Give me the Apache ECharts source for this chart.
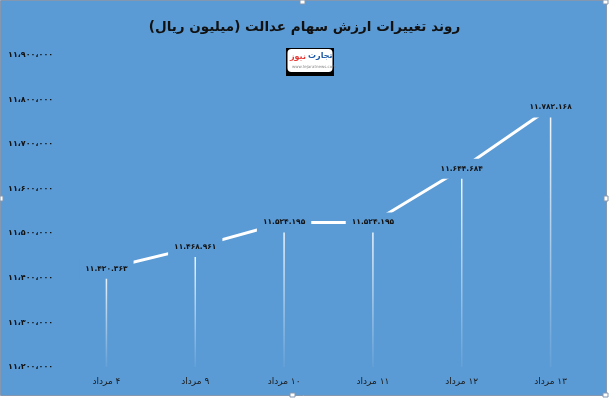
<!DOCTYPE html>
<html>
<head>
<meta charset="utf-8">
<script src="https://cdn.jsdelivr.net/npm/echarts@6/dist/echarts.min.js"></script>
<style>html,body{margin:0;padding:0;background:#fff}#c{width:609px;height:398px}</style>
</head>
<body>
<div id="c"></div>
<script>
const titleText = 'روند تغییرات ارزش سهام عدالت (میلیون ریال)';
const categories = ['۴ مرداد', '۹ مرداد', '۱۰ مرداد', '۱۱ مرداد', '۱۲ مرداد', '۱۳ مرداد'];
const values = [11420363, 11468961, 11524195, 11524195, 11644684, 11782168];
const yMin = 11200000;
const yMax = 11900000;
const yStep = 100000;

const faDigits = '۰۱۲۳۴۵۶۷۸۹';
function toFa(n, sep) {
  const s = String(Math.round(n)).replace(/\B(?=(\d{3})+(?!\d))/g, ',');
  return s.replace(/\d/g, d => faDigits[+d]).replace(/,/g, sep);
}

const BG = '#5b9bd5';
const chart = echarts.init(document.getElementById('c'), null, {renderer: 'canvas'});
const font = 'DejaVu Sans';

chart.setOption({
  backgroundColor: '#ffffff',
  animation: false,
  textStyle: {fontFamily: font},
  title: {
    text: '\u200F' + titleText + '\u200F',
    left: 'center',
    top: 15,
    textStyle: {fontFamily: font, fontSize: 13.5, fontWeight: 'bold', color: '#111'}
  },
  graphic: [
    {type: 'rect', z: -100, silent: true, shape: {x: 0.5, y: 0.5, width: 606, height: 395},
      style: {fill: BG, stroke: '#8497b0', lineWidth: 1}},
    {type: 'rect', z: 10, shape: {x: 286, y: 48, width: 48, height: 28}, style: {fill: '#000'}},
    {type: 'rect', z: 11, shape: {x: 287.5, y: 49, width: 45, height: 23, r: 4}, style: {fill: '#fff'}},
    {type: 'text', z: 12, left: 290, top: 53, style: {text: 'نیوز',
      fill: '#e53935', fontSize: 8, fontWeight: 'bold', fontFamily: font}},
    {type: 'text', z: 12, left: 308, top: 52, style: {text: 'تجارت',
      fill: '#1e5aa8', fontSize: 8, fontWeight: 'bold', fontFamily: font}},
    {type: 'text', z: 12, left: 292, top: 65, style: {text: 'www.tejaratnews.com',
      fill: '#888', fontSize: 4, fontFamily: font}},
    {type: 'rect', z: 20, shape: {x: 300, y: 0, width: 5, height: 4}, style: {fill: '#fff', stroke: '#8497b0'}},
    {type: 'rect', z: 20, shape: {x: 604, y: 196, width: 4, height: 5}, style: {fill: '#fff', stroke: '#8497b0'}},
    {type: 'rect', z: 20, shape: {x: 0, y: 196, width: 3, height: 5}, style: {fill: '#fff', stroke: '#8497b0'}},
    {type: 'rect', z: 20, shape: {x: 290, y: 393, width: 5, height: 4}, style: {fill: '#fff', stroke: '#8497b0'}},
    {type: 'rect', z: 20, shape: {x: 603, y: 0, width: 5, height: 4}, style: {fill: '#fff', stroke: '#8497b0'}},
    {type: 'rect', z: 20, shape: {x: 603, y: 393, width: 5, height: 4}, style: {fill: '#fff', stroke: '#8497b0'}}
  ],
  grid: {left: 62, right: 14, top: 55, bottom: 31, containLabel: false},
  xAxis: {
    type: 'category',
    data: categories,
    boundaryGap: true,
    axisLine: {show: false},
    axisTick: {show: false},
    splitLine: {show: false},
    axisLabel: {
      color: '#1a1a1a', fontSize: 9, margin: 10, fontFamily: font,
      formatter: v => '\u200F' + v
    }
  },
  yAxis: {
    type: 'value',
    min: yMin, max: yMax, interval: yStep,
    axisLine: {show: false},
    axisTick: {show: false},
    splitLine: {show: false},
    axisLabel: {
      color: '#111', fontSize: 8, fontWeight: 'bold', align: 'left', margin: 54, fontFamily: font,
      formatter: v => toFa(v, '،')
    }
  },
  series: [
    {
      type: 'custom',
      z: 1,
      data: values.map((v, i) => [i, v]),
      encode: {x: 0, y: 1},
      renderItem: function (params, api) {
        const top = api.coord([api.value(0), api.value(1)]);
        const bottom = api.coord([api.value(0), yMin]);
        return {
          type: 'line',
          shape: {x1: top[0], y1: top[1], x2: bottom[0], y2: bottom[1]},
          style: {
            stroke: new echarts.graphic.LinearGradient(0, top[1], 0, bottom[1], [
              {offset: 0, color: 'rgba(255,255,255,0.95)'},
              {offset: 1, color: 'rgba(255,255,255,0.05)'}
            ], true),
            lineWidth: 1.5
          }
        };
      }
    },
    {
      type: 'line',
      z: 3,
      data: values,
      symbol: 'circle',
      symbolSize: 1,
      itemStyle: {color: 'rgba(0,0,0,0)'},
      lineStyle: {color: '#ffffff', width: 3},
      label: {
        show: true,
        position: 'inside',
        color: '#111',
        fontSize: 7.5,
        fontWeight: 'bold',
        fontFamily: font,
        backgroundColor: BG,
        padding: [6, 6],
        formatter: p => toFa(p.value, '.')
      }
    }
  ]
});
</script>
</body>
</html>
